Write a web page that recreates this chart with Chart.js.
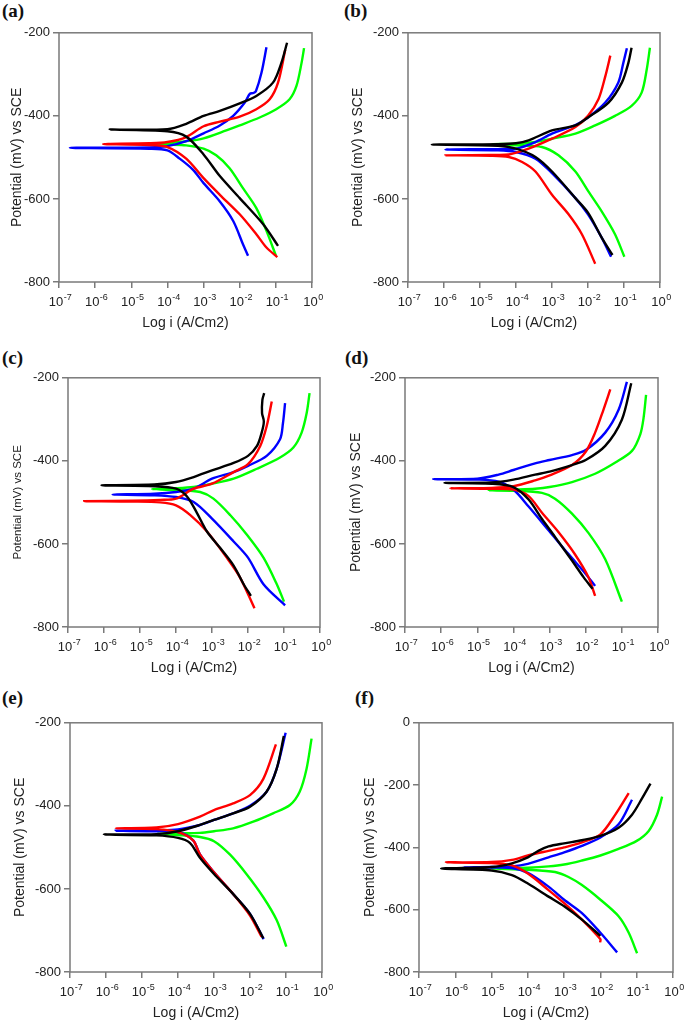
<!DOCTYPE html>
<html>
<head>
<meta charset="utf-8">
<script src="https://cdn.jsdelivr.net/npm/chart.js@4.4.1/dist/chart.umd.min.js"></script>
<style>
  html, body { margin: 0; padding: 0; background: #fff; }
  body { width: 685px; height: 1023px; position: relative; overflow: hidden; }
  canvas { position: absolute; }
  .tag { position: absolute; font: bold 19px "Liberation Serif", "Times New Roman", serif; color: #111; line-height: 1; }
</style>
</head>
<body>
<div class="tag" style="left:2px;top:1px">(a)</div>
<div class="tag" style="left:344px;top:1px">(b)</div>
<div class="tag" style="left:2px;top:348px">(c)</div>
<div class="tag" style="left:345px;top:348px">(d)</div>
<div class="tag" style="left:2px;top:688px">(e)</div>
<div class="tag" style="left:355px;top:688px">(f)</div>
<canvas id="pa"></canvas>
<canvas id="pb"></canvas>
<canvas id="pc"></canvas>
<canvas id="pd"></canvas>
<canvas id="pe"></canvas>
<canvas id="pf"></canvas>
<script>
// each curve: [log i, potential mV], cathodic end -> Ecorr -> anodic end
const aBlack = [[-0.94,-713],[-1.35,-661],[-2.0,-598],[-2.55,-545],[-3.0,-493],[-3.48,-450],[-4.0,-437],[-5.6,-433],[-4.0,-432],[-3.48,-419],[-3.0,-400],[-2.55,-388],[-2.0,-370],[-1.54,-352],[-1.08,-320],[-0.85,-273],[-0.69,-224]];
const aRed = [[-0.96,-740],[-1.26,-717],[-1.54,-685],[-2.0,-637],[-2.55,-590],[-3.0,-550],[-3.48,-503],[-4.0,-475],[-4.5,-470],[-5.78,-468],[-4.5,-466],[-4.0,-463],[-3.48,-451],[-3.0,-425],[-2.55,-414],[-2.0,-402],[-1.54,-384],[-1.17,-360],[-0.94,-320],[-0.74,-241]];
const aBlue = [[-1.77,-737],[-1.91,-709],[-2.18,-653],[-2.55,-606],[-3.0,-562],[-3.29,-530],[-3.66,-503],[-4.0,-483],[-4.5,-479],[-6.7,-477],[-4.5,-476],[-4.0,-473],[-3.48,-461],[-3.0,-442],[-2.55,-423],[-2.18,-400],[-1.86,-368],[-1.72,-347],[-1.62,-345],[-1.55,-340],[-1.4,-297],[-1.26,-235]];
const aGreen = [[-1.0,-736],[-1.26,-677],[-1.54,-622],[-1.91,-574],[-2.28,-526],[-2.65,-495],[-3.0,-479],[-3.48,-471],[-4.0,-469],[-4.49,-467],[-4.0,-465],[-3.48,-461],[-3.0,-454],[-2.37,-435],[-2.0,-423],[-1.45,-404],[-0.99,-384],[-0.62,-360],[-0.43,-328],[-0.29,-273],[-0.22,-237]];

const bBlack = [[-1.32,-735],[-1.62,-693],[-2.0,-633],[-2.35,-598],[-3.0,-534],[-3.46,-499],[-4.0,-479],[-4.5,-472],[-6.34,-469],[-4.5,-468],[-4.0,-466],[-3.65,-459],[-3.0,-435],[-2.35,-423],[-2.0,-404],[-1.43,-368],[-1.06,-320],[-0.88,-273],[-0.79,-236]];
const bRed = [[-1.80,-756],[-2.17,-685],[-2.54,-637],[-3.0,-590],[-3.46,-534],[-3.83,-511],[-4.2,-499],[-4.7,-496],[-5.96,-495],[-4.7,-494],[-4.2,-493],[-3.65,-479],[-3.0,-455],[-2.35,-427],[-2.0,-400],[-1.71,-360],[-1.52,-305],[-1.38,-255]];
const bBlue = [[-1.36,-739],[-1.62,-693],[-2.0,-637],[-2.35,-598],[-3.0,-538],[-3.46,-503],[-4.0,-487],[-4.5,-483],[-5.96,-481],[-4.5,-480],[-4.0,-479],[-3.46,-463],[-3.0,-443],[-2.35,-422],[-2.0,-404],[-1.52,-368],[-1.16,-320],[-1.02,-273],[-0.92,-237]];
const bGreen = [[-0.99,-739],[-1.25,-685],[-1.62,-630],[-1.99,-582],[-2.35,-534],[-2.82,-495],[-3.28,-475],[-4.0,-471],[-4.66,-468],[-4.0,-467],[-3.46,-463],[-3.0,-455],[-2.35,-443],[-1.80,-423],[-1.25,-400],[-0.79,-376],[-0.51,-344],[-0.37,-289],[-0.28,-236]];

const cBlack = [[-1.92,-725],[-2.12,-697],[-2.40,-652],[-2.77,-610],[-3.14,-570],[-3.42,-525],[-3.70,-485],[-4.0,-467],[-4.6,-461],[-6.07,-459],[-4.6,-457],[-4.0,-451],[-3.51,-439],[-3.0,-423],[-2.40,-405],[-2.0,-388],[-1.75,-364],[-1.62,-332],[-1.56,-305],[-1.61,-285],[-1.60,-253],[-1.55,-237]];
const cRed = [[-1.82,-755],[-2.22,-681],[-2.59,-633],[-3.14,-570],[-3.61,-530],[-4.0,-507],[-4.44,-500],[-5.2,-498],[-6.55,-497],[-5.2,-496],[-4.44,-494],[-4.0,-491],[-3.51,-467],[-3.0,-455],[-2.40,-427],[-2.0,-408],[-1.66,-364],[-1.48,-316],[-1.34,-257]];
const cBlue = [[-0.97,-748],[-1.57,-697],[-2.0,-633],[-2.40,-594],[-3.0,-539],[-3.51,-499],[-4.0,-487],[-4.6,-483],[-5.76,-481],[-4.6,-479],[-4.0,-475],[-3.51,-467],[-3.0,-443],[-2.40,-427],[-2.0,-412],[-1.48,-388],[-1.11,-348],[-1.03,-310],[-0.97,-261]];
const cGreen = [[-1.0,-739],[-1.20,-697],[-1.57,-633],[-2.03,-578],[-2.49,-531],[-2.96,-491],[-3.33,-475],[-4.0,-470],[-4.67,-468],[-4.0,-466],[-3.51,-463],[-3.0,-455],[-2.40,-443],[-1.75,-419],[-1.11,-392],[-0.74,-368],[-0.51,-332],[-0.37,-285],[-0.29,-237]];

const dBlack = [[-1.81,-708],[-2.06,-680],[-2.38,-640],[-2.85,-583],[-3.21,-540],[-3.58,-493],[-4.0,-463],[-4.6,-455],[-5.91,-453],[-4.6,-452],[-4.0,-445],[-3.40,-433],[-3.0,-426],[-2.38,-410],[-2.0,-398],[-1.46,-364],[-1.0,-301],[-0.74,-213]];
const dRed = [[-1.74,-725],[-1.92,-681],[-2.29,-626],[-2.75,-572],[-3.21,-525],[-3.58,-485],[-4.0,-469],[-4.6,-467],[-5.75,-466],[-4.6,-465],[-4.0,-461],[-3.40,-447],[-3.0,-435],[-2.38,-410],[-2.0,-378],[-1.74,-332],[-1.51,-277],[-1.32,-228]];
const dBlue = [[-1.74,-701],[-2.01,-671],[-2.48,-624],[-3.0,-570],[-3.58,-510],[-4.0,-469],[-4.41,-450],[-5.0,-445],[-6.22,-444],[-5.0,-443],[-4.41,-433],[-4.0,-422],[-3.40,-406],[-3.0,-398],[-2.38,-386],[-2.0,-374],[-1.46,-332],[-1.09,-277],[-0.86,-210]];
const dGreen = [[-1.0,-739],[-1.46,-637],[-1.92,-574],[-2.38,-527],[-2.85,-491],[-3.21,-477],[-4.0,-472],[-4.69,-471],[-4.0,-469],[-3.40,-467],[-3.0,-463],[-2.38,-451],[-1.74,-431],[-1.18,-404],[-0.72,-376],[-0.49,-336],[-0.40,-297],[-0.33,-241]];

const eBlack = [[-1.63,-719],[-2.0,-660],[-2.47,-612],[-3.0,-564],[-3.39,-525],[-3.67,-489],[-4.0,-477],[-4.6,-471],[-6.06,-469],[-4.6,-468],[-4.0,-461],[-3.39,-446],[-3.0,-434],[-2.47,-418],[-2.0,-402],[-1.54,-366],[-1.26,-311],[-1.06,-232]];
const eRed = [[-1.68,-715],[-2.0,-664],[-2.47,-612],[-3.0,-560],[-3.39,-517],[-3.58,-483],[-4.0,-463],[-4.6,-456],[-5.73,-454],[-4.6,-452],[-4.0,-444],[-3.39,-426],[-3.0,-410],[-2.47,-394],[-2.0,-374],[-1.63,-335],[-1.28,-252]];
const eBlue = [[-1.62,-721],[-2.0,-660],[-2.47,-612],[-3.0,-560],[-3.39,-517],[-3.58,-483],[-4.0,-463],[-4.6,-461],[-5.73,-460],[-4.6,-459],[-4.0,-457],[-3.39,-446],[-3.0,-434],[-2.47,-418],[-2.0,-400],[-1.54,-366],[-1.26,-311],[-1.01,-224]];
const eGreen = [[-0.99,-739],[-1.26,-675],[-1.63,-620],[-2.10,-564],[-2.56,-517],[-3.0,-485],[-3.39,-475],[-4.0,-470],[-4.59,-467],[-4.0,-466],[-3.39,-465],[-3.0,-461],[-2.47,-454],[-1.91,-438],[-1.36,-418],[-0.89,-398],[-0.62,-366],[-0.43,-311],[-0.29,-238]];

const fBlack = [[-2.0,-684],[-2.51,-632],[-3.0,-589],[-3.43,-558],[-4.0,-516],[-4.44,-489],[-5.0,-474],[-6.39,-468],[-5.0,-463],[-4.44,-451],[-4.0,-432],[-3.71,-411],[-3.43,-397],[-3.0,-387],[-2.51,-377],[-2.0,-363],[-1.50,-337],[-1.13,-295],[-0.85,-242],[-0.62,-195]];
const fRed = [[-2.01,-705],[-2.0,-695],[-2.51,-632],[-3.0,-579],[-3.43,-537],[-4.0,-484],[-4.44,-458],[-5.0,-450],[-6.26,-448],[-5.0,-447],[-4.44,-440],[-4.0,-426],[-3.43,-411],[-3.0,-400],[-2.51,-384],[-2.0,-358],[-1.59,-295],[-1.22,-226]];
const fBlue = [[-1.54,-737],[-2.0,-674],[-2.51,-611],[-3.0,-568],[-3.43,-526],[-4.0,-482],[-4.44,-466],[-5.0,-465],[-5.78,-464],[-5.0,-463],[-4.44,-461],[-4.0,-453],[-3.43,-432],[-3.0,-416],[-2.51,-395],[-2.0,-368],[-1.50,-326],[-1.13,-247]];
const fGreen = [[-0.99,-740],[-1.22,-674],[-1.50,-621],[-2.0,-568],[-2.51,-521],[-2.88,-495],[-3.25,-479],[-4.0,-472],[-5.0,-468],[-4.0,-465],[-3.43,-461],[-3.0,-455],[-2.51,-442],[-2.0,-426],[-1.50,-405],[-1.0,-379],[-0.67,-347],[-0.44,-295],[-0.30,-237]];

const curveColors = ['#000000', '#ff0000', '#0000ff', '#00ff00'];
const xTitle = 'Log i (A/Cm2)';
const yTitle = 'Potential (mV) vs SCE';

// canvas box [left, top, width, height], y axis width, right padding, top padding, y title offset
const panels = [
  {id: 'pa', curves: [aBlack, aRed, aBlue, aGreen], yMin: -800, yMax: -200, box: [0, 22, 342, 312], yW: 59, padR: 30, padT: 7, tPad: 9, tSize: 14},
  {id: 'pb', curves: [bBlack, bRed, bBlue, bGreen], yMin: -800, yMax: -200, box: [342, 22, 343, 312], yW: 66, padR: 25, padT: 7, tPad: 7.5, tSize: 14},
  {id: 'pc', curves: [cBlack, cRed, cBlue, cGreen], yMin: -800, yMax: -200, box: [0, 367, 342, 312], yW: 68, padR: 22, padT: 7, tPad: 11, tSize: 11.5},
  {id: 'pd', curves: [dBlack, dRed, dBlue, dGreen], yMin: -800, yMax: -200, box: [342, 367, 343, 312], yW: 63, padR: 27, padT: 7, tPad: 5.5, tSize: 14},
  {id: 'pe', curves: [eBlack, eRed, eBlue, eGreen], yMin: -800, yMax: -200, box: [0, 712, 342, 312], yW: 70, padR: 20, padT: 8, tPad: 11.5, tSize: 14},
  {id: 'pf', curves: [fBlack, fRed, fBlue, fGreen], yMin: -800, yMax: 0, box: [342, 712, 343, 312], yW: 77, padR: 12, padT: 8, tPad: 19.5, tSize: 14},
];

const FONT = '"Liberation Sans", Arial, "DejaVu Sans", sans-serif';

const frame = {
  id: 'frame',
  afterDatasetsDraw(chart) {
    const {ctx, chartArea: a} = chart;
    ctx.save();
    ctx.strokeStyle = '#7a7a7a';
    ctx.lineWidth = 1.5;
    ctx.strokeRect(a.left, a.top, a.right - a.left, a.bottom - a.top);
    ctx.restore();
  }
};

// x tick labels as 10 with a raised exponent
const decadeTicks = {
  id: 'decadeTicks',
  afterDraw(chart) {
    const s = chart.scales.x, ctx = chart.ctx;
    ctx.save();
    ctx.fillStyle = '#222';
    ctx.textAlign = 'left';
    ctx.textBaseline = 'alphabetic';
    s.ticks.forEach(t => {
      const px = s.getPixelForValue(t.value);
      const exp = String(Math.round(t.value));
      ctx.font = '13px ' + FONT;
      const wb = ctx.measureText('10').width;
      ctx.font = '9px ' + FONT;
      const we = ctx.measureText(exp).width;
      const x0 = px - (wb + we) / 2 + 1;
      const y = s.top + 24;
      ctx.font = '13px ' + FONT;
      ctx.fillText('10', x0, y);
      ctx.font = '9px ' + FONT;
      ctx.fillText(exp, x0 + wb + 0.5, y - 6);
    });
    ctx.restore();
  }
};

panels.forEach(p => {
  const cv = document.getElementById(p.id);
  const [l, t, w, h] = p.box;
  cv.width = w; cv.height = h;
  cv.style.left = l + 'px'; cv.style.top = t + 'px';
  cv.style.width = w + 'px'; cv.style.height = h + 'px';

  const grid = {drawOnChartArea: false, tickLength: 6, color: '#7a7a7a', lineWidth: 1.5};
  new Chart(cv, {
    type: 'scatter',
    data: {
      datasets: p.curves.map((c, i) => ({
        data: c.map(([x, y]) => ({x, y})),
        showLine: true,
        borderColor: curveColors[i],
        borderWidth: 2.4,
        pointRadius: 0,
        tension: 0.3,
        fill: false
      }))
    },
    options: {
      responsive: false,
      animation: false,
      devicePixelRatio: 1,
      layout: {padding: {top: p.padT, right: p.padR, left: 0, bottom: 0}},
      plugins: {legend: {display: false}, tooltip: {enabled: false}},
      scales: {
        x: {
          type: 'linear', min: -7, max: 0,
          afterFit(s) { s.height = 52; },
          grid: grid,
          border: {display: false},
          ticks: {stepSize: 1, autoSkip: false, display: false},
          title: {display: true, text: xTitle, color: '#222', font: {family: FONT, size: 14}, padding: {top: 0, bottom: 2}}
        },
        y: {
          type: 'linear', min: p.yMin, max: p.yMax,
          afterFit(s) { s.width = p.yW; },
          grid: grid,
          border: {display: false},
          ticks: {stepSize: 200, padding: 3, color: '#222', font: {family: FONT, size: 13}},
          title: {display: true, text: yTitle, color: '#222', font: {family: FONT, size: p.tSize}, padding: {top: p.tPad, bottom: 0}}
        }
      }
    },
    plugins: [frame, decadeTicks]
  });
});
</script>
</body>
</html>
